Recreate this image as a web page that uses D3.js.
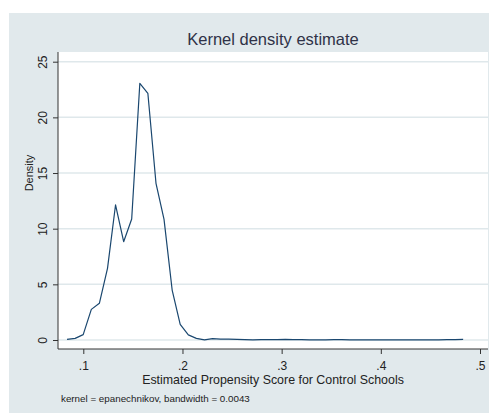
<!DOCTYPE html>
<meta charset="utf-8">
<style>
    body {
        margin: 0;
        background: #fff;
        font-family: "Liberation Sans", Arial, sans-serif;
    }

    .tick text {
        font-size: 12px;
        fill: #222;
    }
</style>

<body>
    <script src="https://cdn.jsdelivr.net/npm/d3@7"></script>

    <script>

        // evaluation points of the kernel density (50 points)
        var scores = [
            0.0836, 0.0918, 0.0999, 0.1081, 0.1162, 0.1244, 0.1325, 0.1407, 0.1488, 0.1570,
            0.1651, 0.1733, 0.1814, 0.1896, 0.1977, 0.2059, 0.2140, 0.2222, 0.2303, 0.2385,
            0.2466, 0.2548, 0.2629, 0.2711, 0.2792, 0.2874, 0.2955, 0.3037, 0.3118, 0.3200,
            0.3281, 0.3363, 0.3444, 0.3526, 0.3607, 0.3689, 0.3770, 0.3852, 0.3933, 0.4015,
            0.4096, 0.4178, 0.4259, 0.4341, 0.4422, 0.4504, 0.4585, 0.4667, 0.4748, 0.4830
        ];

        var densities = [
            0.05, 0.15, 0.48, 2.75, 3.30, 6.44, 12.13, 8.83, 10.87, 23.06,
            22.16, 14.08, 10.84, 4.49, 1.40, 0.46, 0.15, 0.01, 0.12, 0.08,
            0.07, 0.05, 0.03, 0.02, 0.03, 0.03, 0.04, 0.05, 0.04, 0.03,
            0.02, 0.02, 0.02, 0.03, 0.03, 0.02, 0.02, 0.02, 0.02, 0.02,
            0.02, 0.02, 0.02, 0.02, 0.02, 0.02, 0.02, 0.03, 0.04, 0.05
        ];

        var xTicks = [0.1, 0.2, 0.3, 0.4, 0.5];
        var yTicks = [0, 5, 10, 15, 20, 25];

        var titleText = "Kernel density estimate";
        var xTitle = "Estimated Propensity Score for Control Schools";
        var yTitle = "Density";
        var noteText = "kernel = epanechnikov, bandwidth = 0.0043";

        var width = 490,
            height = 417;

        // plot region (white box)
        var plot = { left: 58, top: 52, right: 488, bottom: 349 };

        var x = d3.scaleLinear()
            .domain([0.1, 0.5])
            .range([83.3, 480]);

        var y = d3.scaleLinear()
            .domain([0, 25])
            .range([340, 61.7]);

        var svg = d3.select("body").append("svg")
            .attr("width", width)
            .attr("height", height);

        // graph region background
        svg.append("rect")
            .attr("x", 9).attr("y", 13)
            .attr("width", 480).attr("height", 400)
            .attr("fill", "#e1e9ec");

        svg.append("rect")
            .attr("x", plot.left).attr("y", plot.top)
            .attr("width", plot.right - plot.left)
            .attr("height", plot.bottom - plot.top)
            .attr("fill", "#fff");

        // horizontal grid
        svg.append("g")
            .selectAll("line")
            .data(yTicks)
            .enter().append("line")
            .attr("x1", plot.left).attr("x2", plot.right)
            .attr("y1", function (d) { return y(d); })
            .attr("y2", function (d) { return y(d); })
            .attr("stroke", "#dfe8eb")
            .attr("stroke-width", 1.5);

        // density line
        var line = d3.line()
            .x(function (d, i) { return x(scores[i]); })
            .y(function (d) { return y(d); });

        svg.append("path")
            .datum(densities)
            .attr("fill", "none")
            .attr("stroke", "#1a476f")
            .attr("stroke-width", 1.2)
            .attr("stroke-linejoin", "round")
            .attr("d", line);

        // x axis
        var xAxis = d3.axisBottom(x)
            .tickValues(xTicks)
            .tickSize(5)
            .tickPadding(7.5)
            .tickFormat(function (d) { return d3.format(".1f")(d).replace(/^0/, ""); });

        var gx = svg.append("g")
            .attr("transform", "translate(0," + plot.bottom + ")")
            .call(xAxis);
        gx.select(".domain").remove();
        gx.append("line")
            .attr("x1", plot.left).attr("x2", plot.right)
            .attr("stroke", "#333");
        gx.selectAll(".tick line").attr("stroke", "#333");

        // y axis, labels rotated as in Stata
        var yAxis = d3.axisLeft(y)
            .tickValues(yTicks)
            .tickSize(5)
            .tickFormat(d3.format("d"));

        var gy = svg.append("g")
            .attr("transform", "translate(" + plot.left + ",0)")
            .call(yAxis);
        gy.select(".domain").remove();
        gy.append("line")
            .attr("y1", plot.top).attr("y2", plot.bottom)
            .attr("stroke", "#333");
        gy.selectAll(".tick line").attr("stroke", "#333");
        gy.selectAll(".tick text")
            .attr("x", null).attr("dy", null)
            .attr("transform", "translate(-11,0) rotate(-90)")
            .attr("text-anchor", "middle");

        // titles
        svg.append("text")
            .attr("x", 273).attr("y", 45)
            .attr("text-anchor", "middle")
            .style("font-size", "16.5px")
            .style("fill", "#2f3247")
            .text(titleText);

        svg.append("text")
            .attr("x", 273).attr("y", 383.5)
            .attr("text-anchor", "middle")
            .style("font-size", "12.4px")
            .style("fill", "#222")
            .text(xTitle);

        svg.append("text")
            .attr("transform", "translate(33,173) rotate(-90)")
            .attr("text-anchor", "middle")
            .style("font-size", "11px")
            .style("fill", "#222")
            .text(yTitle);

        svg.append("text")
            .attr("x", 61).attr("y", 402)
            .style("font-size", "9.8px")
            .style("fill", "#222")
            .text(noteText);

    </script>

</body>

</html>
